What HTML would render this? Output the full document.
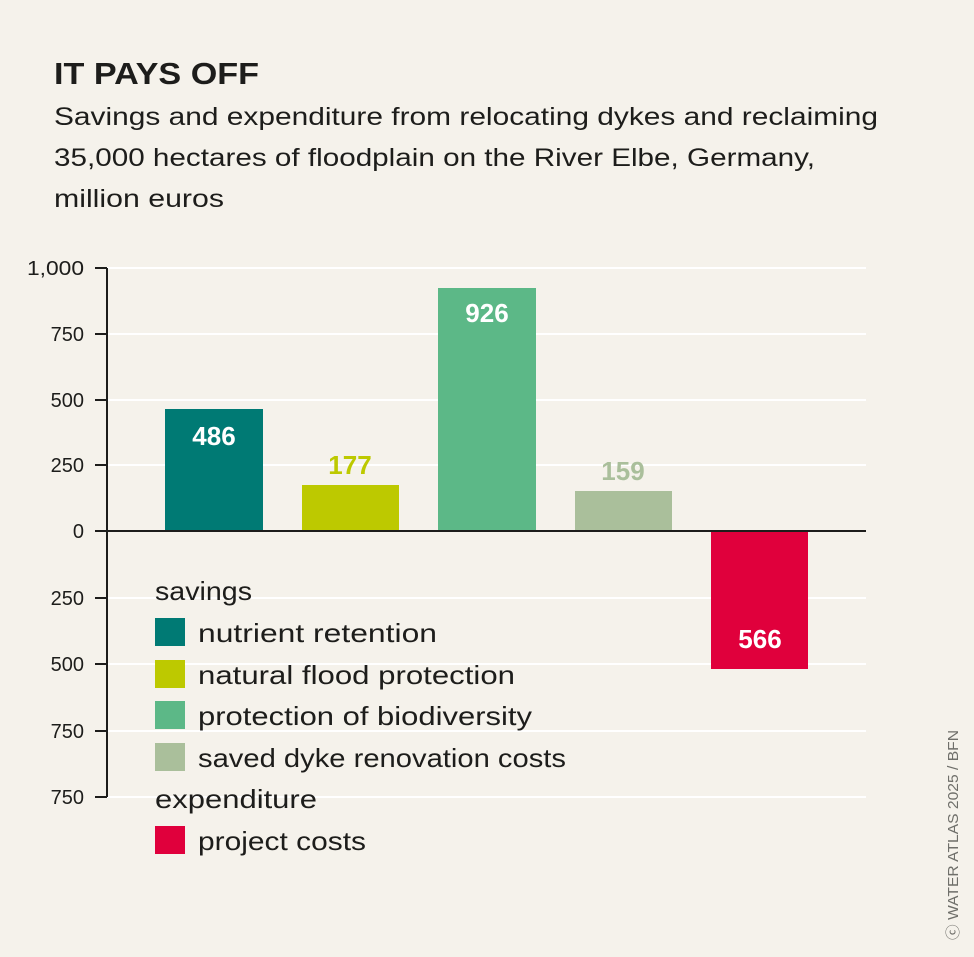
<!DOCTYPE html>
<html><head><meta charset="utf-8"><style>
html,body{margin:0;padding:0;background:#f5f2eb;}
svg{display:block;font-family:"Liberation Sans",sans-serif;}
</style></head><body>
<svg width="974" height="957" viewBox="0 0 974 957">
<rect width="974" height="957" fill="#f5f2eb"/>
<text x="54" y="84" font-size="31" font-weight="bold" fill="#1d1d1b" textLength="205" lengthAdjust="spacingAndGlyphs">IT PAYS OFF</text>
<g font-size="25" fill="#1d1d1b">
<text x="54" y="125" textLength="824" lengthAdjust="spacingAndGlyphs">Savings and expenditure from relocating dykes and reclaiming</text>
<text x="54" y="166" textLength="761" lengthAdjust="spacingAndGlyphs">35,000 hectares of floodplain on the River Elbe, Germany,</text>
<text x="54" y="207" textLength="170" lengthAdjust="spacingAndGlyphs">million euros</text>
</g>
<g stroke="#ffffff" stroke-width="2">
<line x1="107" y1="268" x2="866" y2="268"/><line x1="107" y1="334" x2="866" y2="334"/>
<line x1="107" y1="400" x2="866" y2="400"/><line x1="107" y1="465" x2="866" y2="465"/>
<line x1="107" y1="598" x2="866" y2="598"/><line x1="107" y1="664" x2="866" y2="664"/>
<line x1="107" y1="731" x2="866" y2="731"/><line x1="107" y1="797" x2="866" y2="797"/>
</g>
<rect x="165" y="409" width="98" height="122" fill="#007a74"/>
<rect x="302" y="485" width="97" height="46" fill="#bdc900"/>
<rect x="438" y="288" width="98" height="243" fill="#5cb887"/>
<rect x="575" y="491" width="97" height="40" fill="#aabf9b"/>
<rect x="711" y="531" width="97" height="138" fill="#e0003c"/>
<g stroke="#1d1d1b" stroke-width="2">
<line x1="107" y1="268" x2="107" y2="797"/>
<line x1="95" y1="531" x2="866" y2="531"/>
<line x1="95" y1="268" x2="107" y2="268"/><line x1="95" y1="334" x2="107" y2="334"/>
<line x1="95" y1="400" x2="107" y2="400"/><line x1="95" y1="465" x2="107" y2="465"/>
<line x1="95" y1="598" x2="107" y2="598"/><line x1="95" y1="664" x2="107" y2="664"/>
<line x1="95" y1="731" x2="107" y2="731"/><line x1="95" y1="797" x2="107" y2="797"/>
</g>
<g font-size="20" fill="#1d1d1b" text-anchor="end">
<text x="84" y="275" textLength="57" lengthAdjust="spacingAndGlyphs">1,000</text><text x="84" y="341">750</text><text x="84" y="407">500</text>
<text x="84" y="472">250</text><text x="84" y="538">0</text><text x="84" y="605">250</text>
<text x="84" y="671">500</text><text x="84" y="738">750</text><text x="84" y="804">750</text>
</g>
<g font-size="26" font-weight="bold" text-anchor="middle">
<text x="214" y="445" fill="#fff">486</text>
<text x="350" y="474" fill="#bdc900">177</text>
<text x="487" y="322" fill="#fff">926</text>
<text x="623" y="480" fill="#aabf9b">159</text>
<text x="760" y="648" fill="#fff">566</text>
</g>
<g font-size="26" fill="#1d1d1b" lengthAdjust="spacingAndGlyphs">
<text x="155" y="600" textLength="97" lengthAdjust="spacingAndGlyphs">savings</text>
<rect x="155" y="618" width="30" height="28" fill="#007a74"/><text x="198" y="642" textLength="239" lengthAdjust="spacingAndGlyphs">nutrient retention</text>
<rect x="155" y="660" width="30" height="28" fill="#bdc900"/><text x="198" y="684" textLength="317" lengthAdjust="spacingAndGlyphs">natural flood protection</text>
<rect x="155" y="701" width="30" height="28" fill="#5cb887"/><text x="198" y="725" textLength="334" lengthAdjust="spacingAndGlyphs">protection of biodiversity</text>
<rect x="155" y="743" width="30" height="28" fill="#aabf9b"/><text x="198" y="767" textLength="368" lengthAdjust="spacingAndGlyphs">saved dyke renovation costs</text>
<text x="155" y="808" textLength="162" lengthAdjust="spacingAndGlyphs">expenditure</text>
<rect x="155" y="826" width="30" height="28" fill="#e0003c"/><text x="198" y="850" textLength="168" lengthAdjust="spacingAndGlyphs">project costs</text>
</g>
<text transform="translate(958,940) rotate(-90)" font-size="15" fill="#6f6f6a" textLength="210" lengthAdjust="spacingAndGlyphs">ⓒ WATER ATLAS 2025 / BFN</text>
</svg>
</body></html>
